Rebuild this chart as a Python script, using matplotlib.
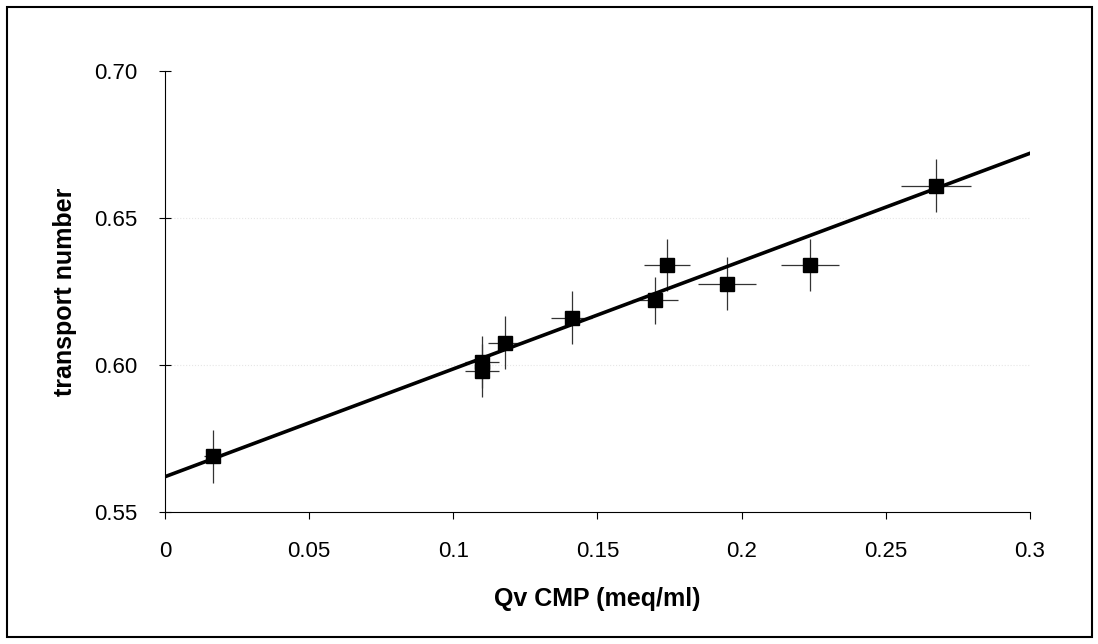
import matplotlib
matplotlib.use('Agg')
import matplotlib.pyplot as plt
from matplotlib.patches import Rectangle

# data
qv = [0.0166, 0.110, 0.110, 0.118, 0.141, 0.170, 0.174, 0.195, 0.2237, 0.2674]
tn = [0.569, 0.601, 0.598, 0.6075, 0.616, 0.622, 0.634, 0.6276, 0.634, 0.661]
qv_err = [0.003, 0.006, 0.006, 0.006, 0.007, 0.008, 0.008, 0.010, 0.010, 0.012]
tn_err = [0.009, 0.009, 0.009, 0.009, 0.009, 0.008, 0.009, 0.009, 0.009, 0.009]

# fitted line
fit_x = [0.0, 0.3]
fit_y = [0.562, 0.672]

x_ticks = [0, 0.05, 0.1, 0.15, 0.2, 0.25, 0.3]
x_labels = ['0', '0.05', '0.1', '0.15', '0.2', '0.25', '0.3']
y_ticks = [0.55, 0.60, 0.65, 0.70]
y_labels = ['0.55', '0.60', '0.65', '0.70']

plt.rcParams['font.family'] = ['Liberation Sans', 'DejaVu Sans']

fig = plt.figure(figsize=(10.98, 6.44), dpi=100)
ax = fig.add_axes([0.1503, 0.205, 0.938 - 0.1503, 0.8898 - 0.205])

ax.errorbar(qv, tn, xerr=qv_err, yerr=tn_err, fmt='none', ecolor='#333333',
            elinewidth=0.9, capsize=0, zorder=2)
ax.plot(fit_x, fit_y, color='black', linewidth=2.6, zorder=3)
ax.plot(qv, tn, 's', color='black', markersize=10, zorder=4)

ax.set_xlim(0, 0.3)
ax.set_ylim(0.55, 0.70)
ax.set_xticks(x_ticks)
ax.set_xticklabels(x_labels)
ax.set_yticks(y_ticks)
ax.set_yticklabels(y_labels)
ax.tick_params(axis='x', direction='out', length=5, width=0.8, labelsize=16, pad=16)
ax.tick_params(axis='y', direction='inout', length=8, width=0.8, labelsize=16, pad=16)

for y in [0.60, 0.65]:
    ax.axhline(y, color='#e6e6e6', linewidth=0.8, linestyle=':', zorder=0)

for s in ['top', 'right']:
    ax.spines[s].set_visible(False)
ax.spines['left'].set_linewidth(0.8)
ax.spines['bottom'].set_linewidth(0.8)

ax.set_xlabel('Qv CMP (meq/ml)', fontsize=18, fontweight='bold', labelpad=18)
ax.set_ylabel('transport number', fontsize=18, fontweight='bold', labelpad=12)

fig.patches.append(Rectangle((7 / 1098, 7 / 644), 1085 / 1098, 630 / 644,
                             transform=fig.transFigure, fill=False,
                             edgecolor='black', linewidth=1.5))

fig.savefig('out.png', dpi=100)
